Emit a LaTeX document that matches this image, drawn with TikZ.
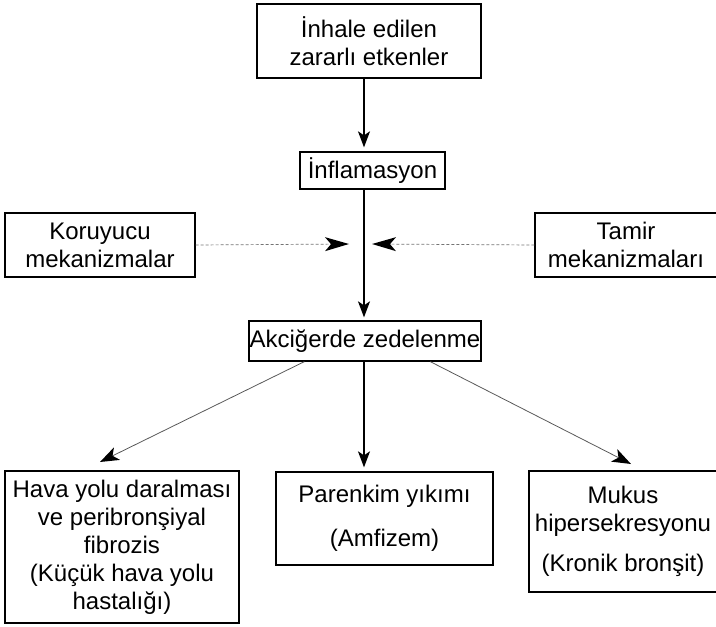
\documentclass[tikz,border=0pt]{standalone}
\usepackage{fontspec}
\setmainfont{Liberation Sans}
\usetikzlibrary{arrows.meta,calc}
\begin{document}
\begin{tikzpicture}[x=1pt,y=-1pt,
  box/.style={draw=black,line width=1.3pt,inner sep=0pt,align=center,
    font=\fontsize{24}{28}\selectfont},
  mainarrow/.style={line width=1.4pt,-{Stealth[length=16pt,width=12pt,inset=4pt]}},
  diagarrow/.style={line width=0.8pt,draw=black!65,
    -{Stealth[length=19pt,width=14pt,inset=5pt,color=black,fill=black,line width=0pt]}},
  dasharrow/.style={line width=0.7pt,draw=black!55,dash pattern=on 3pt off 2pt,
    -{Stealth[length=24pt,width=14pt,inset=6pt,color=black,fill=black,line width=0pt]}}]
\useasboundingbox (0,0) rectangle (716,627);
\clip (0,0) rectangle (716,627);
% boxes
\node[box,minimum width=224pt,minimum height=74pt] (top) at (369,41)
  {İnhale edilen\\zararlı etkenler};
\node[box,minimum width=145pt,minimum height=37pt] (infl) at (372.5,170.5)
  {İnflamasyon};
\node[box,minimum width=190pt,minimum height=64pt] (koru) at (100,245)
  {Koruyucu\\mekanizmalar};
\node[box,minimum width=182pt,minimum height=64pt] (tamir) at (626,245)
  {Tamir\\mekanizmaları};
\node[box,minimum width=232pt,minimum height=40pt] (akc) at (365,341)
  {Akciğerde zedelenme};
\node[box,minimum width=234pt,minimum height=152pt] (hava) at (122,547)
  {Hava yolu daralması\\ve peribronşiyal\\fibrozis\\(Küçük hava yolu\\hastalığı)};
\node[box,minimum width=217pt,minimum height=93pt] (paren) at (384.5,518.5)
  {Parenkim yıkımı\\[16pt](Amfizem)};
\node[box,minimum width=188pt,minimum height=121pt] (mukus) at (623,531.5)
  {Mukus\\hipersekresyonu\\[12pt](Kronik bronşit)};
% helper coordinates
\coordinate (axis) at (364,0);
\coordinate (ltip) at (349,244);
\coordinate (rtip) at (372,244);
\coordinate (htip) at (100,462);
\coordinate (mtip) at (631,464);
% connectors
\draw[mainarrow] (top.south -| axis) -- ($(infl.north -| axis)+(0,-4)$);
\draw[mainarrow] (infl.south -| axis) -- ($(akc.north -| axis)+(0,-3)$);
\draw[dasharrow] (koru.east) -- (ltip);
\draw[dasharrow] (tamir.west) -- (rtip);
\draw[diagarrow] ($(akc.south west)!0.24!(akc.south east)$) -- (htip);
\draw[mainarrow] (akc.south -| axis) -- ($(paren.north -| axis)+(0,-4)$);
\draw[diagarrow] ($(akc.south west)!0.78!(akc.south east)$) -- (mtip);
\end{tikzpicture}
\end{document}
